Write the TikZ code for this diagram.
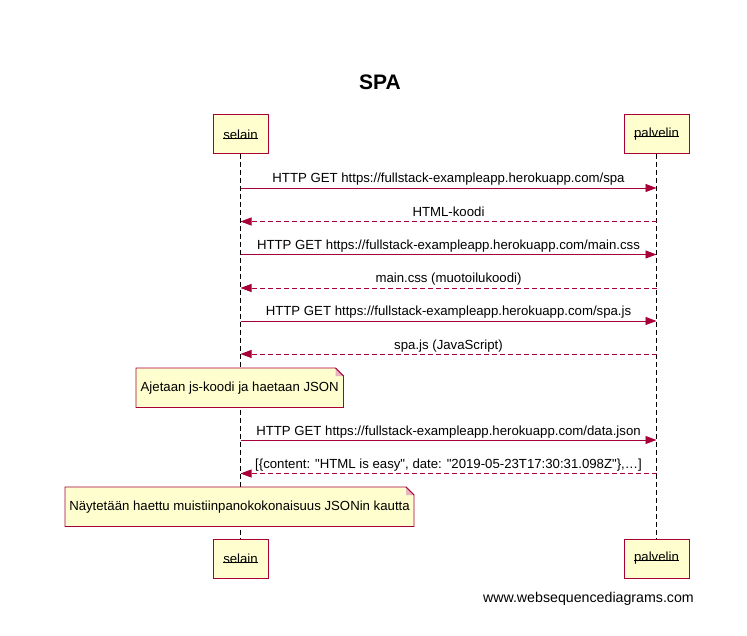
\documentclass[tikz,border=0pt]{standalone}
\usepackage{fontspec}
\setmainfont{Liberation Sans}
\usetikzlibrary{arrows.meta}
\definecolor{wsdred}{HTML}{A80036}
\definecolor{wsdfill}{HTML}{FEFECE}
\definecolor{wsdfold}{HTML}{E8B4BE}
\begin{document}
\begin{tikzpicture}[x=1pt,y=-1pt,
  every node/.style={font=\fontsize{13.2}{15}\selectfont, text=black},
  actorbox/.style={draw=wsdred, fill=wsdfill, line width=1pt, minimum height=39pt, inner sep=0pt},
  actortext/.style={inner sep=0pt},
  lifeline/.style={draw=black, line width=0.9pt, dash pattern=on 5pt off 3pt},
  msg/.style={draw=wsdred, line width=0.9pt, -{Triangle[length=11pt,width=8pt]}},
  reply/.style={msg, dash pattern=on 5pt off 3pt},
  msglabel/.style={anchor=base, inner sep=0pt},
  notebox/.style={draw=wsdred, fill=wsdfill, line width=0.9pt},
  notetext/.style={inner sep=0pt}
]
\useasboundingbox (0,0) rectangle (747,636);
\fill[white] (0,0) rectangle (747,636);

% title
\node[font=\fontsize{21}{25}\bfseries, anchor=base] (title) at (380,90) {SPA};

% lifelines
\coordinate (sTop) at (240.5,154);
\coordinate (sBot) at (240.5,539);
\coordinate (pTop) at (656.5,154);
\coordinate (pBot) at (656.5,539);
\draw[lifeline] (sTop) -- (sBot);
\draw[lifeline] (pTop) -- (pBot);

% participants
\node[actorbox, minimum width=55pt] (selainT) at (240.5,134.5) {};
\node[actortext] (selainTt) at (240.5,134.5) {selain};
\node[actorbox, minimum width=65pt] (palvelinT) at (656.5,134.5) {};
\node[actortext] (palvelinTt) at (656.5,134.5) {palvelin};
\node[actorbox, minimum width=55pt] (selainB) at (240.5,558.5) {};
\node[actortext] (selainBt) at (240.5,558.5) {selain};
\node[actorbox, minimum width=65pt] (palvelinB) at (656.5,558.5) {};
\node[actortext] (palvelinBt) at (656.5,558.5) {palvelin};
\foreach \n in {selainTt,palvelinTt,selainBt,palvelinBt}{
  \draw[black, line width=0.8pt] ([yshift=1.3pt]\n.base west) -- ([yshift=1.3pt]\n.base east);
}

% message coordinates
\foreach \i/\y in {1/188,2/221.5,3/254.5,4/288,5/321,6/354,7/440,8/473.5}{
  \coordinate (s\i) at (240.5,\y);
  \coordinate (p\i) at (656.5,\y);
}

\draw[msg] (s1) -- (p1);
\node[msglabel] (l1) at (448.5,183) {HTTP GET https://fullstack-exampleapp.herokuapp.com/spa};
\draw[reply] (p2) -- (s2);
\node[msglabel] (l2) at (448.5,216.5) {HTML-koodi};
\draw[msg] (s3) -- (p3);
\node[msglabel] (l3) at (448.5,249.5) {HTTP GET https://fullstack-exampleapp.herokuapp.com/main.css};
\draw[reply] (p4) -- (s4);
\node[msglabel] (l4) at (448.5,283) {main.css (muotoilukoodi)};
\draw[msg] (s5) -- (p5);
\node[msglabel] (l5) at (448.5,316) {HTTP GET https://fullstack-exampleapp.herokuapp.com/spa.js};
\draw[reply] (p6) -- (s6);
\node[msglabel] (l6) at (448.5,349) {spa.js (JavaScript)};
\draw[msg] (s7) -- (p7);
\node[msglabel] (l7) at (448.5,435) {HTTP GET https://fullstack-exampleapp.herokuapp.com/data.json};
\draw[reply] (p8) -- (s8);
\node[msglabel] (l8) at (448.5,468.5) {[\{content: \textquotedbl HTML is easy\textquotedbl, date: \textquotedbl 2019-05-23T17:30:31.098Z\textquotedbl\},…]};

% notes
\newcommand{\wsdnote}[5]{% x1,y1,x2,y2,name
  \draw[notebox] (#1,#2) -- ({#3-8},#2) -- (#3,{#2+8}) -- (#3,#4) -- (#1,#4) -- cycle;
  \fill[wsdfold] ({#3-8},#2) -- ({#3-8},{#2+8}) -- (#3,{#2+8}) -- cycle;
  \draw[wsdred, line width=0.9pt] ({#3-8},#2) -- (#3,{#2+8});
  \coordinate (#5) at ({(#1+#3)/2},{(#2+#4)/2});
}
\wsdnote{136}{368}{343.5}{407.5}{n1}
\node[notetext] (n1t) at (n1) {Ajetaan js-koodi ja haetaan JSON};
\wsdnote{65}{487}{414}{526.5}{n2}
\node[notetext] (n2t) at (n2) {Näytetään haettu muistiinpanokokonaisuus JSONin kautta};

% footer
\node[anchor=base east, inner sep=0pt, font=\fontsize{14.2}{17}\selectfont] (footer) at (694,602) {www.websequencediagrams.com};
\end{tikzpicture}
\end{document}
